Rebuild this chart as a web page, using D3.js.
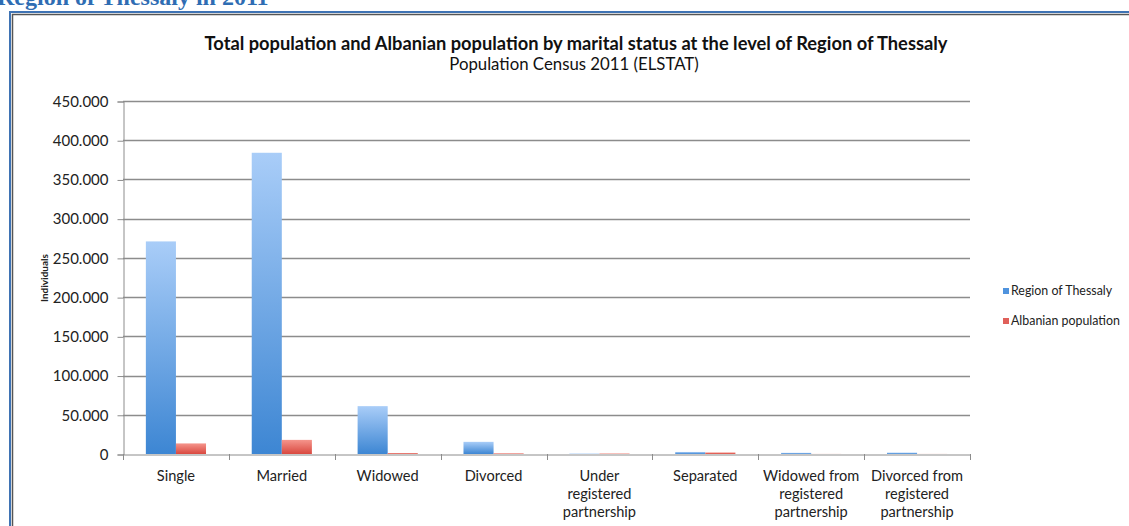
<!DOCTYPE html>
<html><head><meta charset="utf-8">
<script src="https://cdn.jsdelivr.net/npm/d3@7"></script>
<style>body{margin:0;background:#fff}svg{display:block}text{font-family:Lato,"Open Sans",sans-serif}</style>
</head><body><svg id="c" width="1129" height="526"></svg>
<script>
const categories = ["Single","Married","Widowed","Divorced","Under registered partnership","Separated","Widowed from registered partnership","Divorced from registered partnership"];
const categoryLines = [["Single"],["Married"],["Widowed"],["Divorced"],["Under","registered","partnership"],["Separated"],["Widowed from","registered","partnership"],["Divorced from","registered","partnership"]];
const seriesNames = ["Region of Thessaly","Albanian population"];
const thessaly = [271000, 384000, 61000, 15500, 600, 2600, 1500, 1800];
const albanian = [13500, 18000, 1200, 900, 700, 2000, 100, 100];
const yTicks = [0,50000,100000,150000,200000,250000,300000,350000,400000,450000];
const yTickLabels = ["0","50.000","100.000","150.000","200.000","250.000","300.000","350.000","400.000","450.000"];

const svg = d3.select("#c");
const defs = svg.append("defs");
const gb = defs.append("linearGradient").attr("id","gBlue").attr("x1",0).attr("y1",0).attr("x2",0).attr("y2",1);
gb.append("stop").attr("offset","0%").attr("stop-color","#a9cdf8");
gb.append("stop").attr("offset","100%").attr("stop-color","#3d86d3");
const gr = defs.append("linearGradient").attr("id","gRed").attr("x1",0).attr("y1",0).attr("x2",0).attr("y2",1);
gr.append("stop").attr("offset","0%").attr("stop-color","#f5958c");
gr.append("stop").attr("offset","100%").attr("stop-color","#d9483f");
const fills = ["url(#gBlue)","url(#gRed)"];
const legendFills = ["#4f93de","#e0605a"];

// heading (partially cut, as in the reference)
svg.append("text").attr("x",-3).attr("y",5).attr("fill","#2f6db3")
  .style("font-family","'Liberation Serif','DejaVu Serif',serif").style("font-weight","bold").style("font-size","24px")
  .text("Region of Thessaly in 2011");

// frame
svg.append("path").attr("d","M10,526 V12 H1129").attr("fill","none").attr("stroke","#3f73b4").attr("stroke-width",2);
svg.append("path").attr("d","M12.5,526 V14.5 H1129").attr("fill","none").attr("stroke","#555").attr("stroke-width",1.5);

const x0 = 123, x1 = 970, yTop = 101, yBot = 454;
const x = d3.scaleBand().domain(categories).range([x0,x1]);
const y = d3.scaleLinear().domain([0,450000]).range([yBot,yTop]);
const xs = d3.scaleBand().domain(seriesNames).range([0,x.bandwidth()]).paddingInner(0).paddingOuter(0.76);

// gridlines
svg.append("g").selectAll("line").data(yTicks.slice(1)).join("line")
  .attr("x1",x0).attr("x2",x1).attr("y1",d=>Math.round(y(d))+0.5).attr("y2",d=>Math.round(y(d))+0.5)
  .attr("stroke","#8c8c8c").attr("stroke-width",1.3);

// y axis
const yAxis = d3.axisLeft(y).tickValues(yTicks).tickFormat((d,i)=>yTickLabels[i]).tickSize(6).tickPadding(9);
const ga = svg.append("g").attr("transform",`translate(${x0+0.5},0.5)`).call(yAxis);
ga.select(".domain").attr("stroke","#8c8c8c");
ga.selectAll(".tick line").attr("stroke","#8c8c8c");
ga.selectAll(".tick text").style("font-size","15px").style("font-family","Lato,sans-serif").attr("fill","#222");

// bars
const data = categories.map((c,i)=>({c, v:[thessaly[i],albanian[i]]}));
const grp = svg.append("g").selectAll("g").data(data).join("g").attr("transform",d=>`translate(${x(d.c)},0)`);
grp.selectAll("rect").data(d=>d.v.map((v,j)=>({v,j}))).join("rect")
  .attr("x",d=>xs(seriesNames[d.j])).attr("width",xs.bandwidth())
  .attr("y",d=>y(d.v)).attr("height",d=>yBot-y(d.v))
  .attr("fill",d=>fills[d.j]);

// x axis
const xAxis = d3.axisBottom(x).tickSize(0).tickFormat("");
const gx = svg.append("g").attr("transform",`translate(0,${yBot+0.5})`).call(xAxis);
gx.select(".domain").attr("stroke","#8c8c8c");
gx.selectAll(".tick").remove();
const bounds = categories.map(c=>x(c)).concat([x1]);
svg.append("g").selectAll("line").data(bounds).join("line")
  .attr("x1",d=>Math.round(d)+0.5).attr("x2",d=>Math.round(d)+0.5).attr("y1",yBot).attr("y2",yBot+6)
  .attr("stroke","#8c8c8c");
const xl = svg.append("g").selectAll("text").data(categories).join("text")
  .attr("x",d=>x(d)+x.bandwidth()/2).attr("y",481).attr("text-anchor","middle")
  .style("font-size","14.6px").attr("fill","#222");
xl.each(function(d,i){
  const t = d3.select(this);
  categoryLines[i].forEach((ln,k)=>t.append("tspan").attr("x",x(d)+x.bandwidth()/2).attr("y",481+k*18).text(ln));
});

// titles
svg.append("text").attr("x",576).attr("y",50).attr("text-anchor","middle")
  .style("font-size","18.3px").style("font-weight","bold").attr("fill","#111")
  .text("Total population and Albanian population by marital status at the level of Region of Thessaly");
svg.append("text").attr("x",574).attr("y",70).attr("text-anchor","middle")
  .style("font-size","16.8px").attr("fill","#111").text("Population Census 2011 (ELSTAT)");
svg.append("text").attr("transform","translate(48,278) rotate(-90)").attr("text-anchor","middle")
  .style("font-size","10px").style("font-weight","bold").attr("fill","#222").text("Individuals");

// legend
const lg = svg.append("g").selectAll("g").data(seriesNames).join("g")
  .attr("transform",(d,i)=>`translate(1003,${292+i*30})`);
lg.append("rect").attr("x",0).attr("y",-4).attr("width",6).attr("height",6).attr("fill",(d,i)=>legendFills[i]);
lg.append("text").attr("x",8).attr("y",3).style("font-size",'12.4px').attr("fill","#222").text(d=>d);
</script></body></html>
